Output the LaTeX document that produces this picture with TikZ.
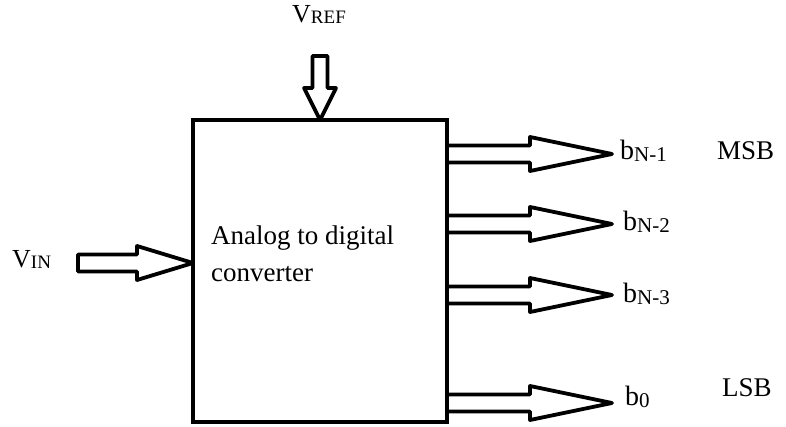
\documentclass[tikz,border=0pt]{standalone}
\usepackage{fontspec}
\setmainfont{Liberation Serif}
\newcommand{\mainsz}{\fontsize{27}{30}\selectfont}
\newcommand{\bsz}{\fontsize{28}{30}\selectfont}
\newcommand{\subsz}{\fontsize{21}{22}\selectfont}
\newcommand{\vsz}{\fontsize{26}{28}\selectfont}
\newcommand{\vsubsz}{\fontsize{19}{20}\selectfont}
\newcommand{\blab}[1]{{\bsz b}\raisebox{-2pt}{\subsz #1}}
\newcommand{\vlab}[1]{{\vsz V}\raisebox{-1pt}{\vsubsz #1}}
\begin{document}
\begin{tikzpicture}[x=1pt,y=-1pt,
  blockbox/.style={draw, line width=4.5pt, minimum width=254pt, minimum height=302pt, inner sep=0pt},
  hollow/.style={draw, line width=3.8pt, line join=round},
  lbl/.style={inner sep=0pt, anchor=base west}]
\useasboundingbox (0,0) rectangle (786,427);
\node[blockbox] (adc) at (320,271) {};
\node[lbl] (txt1) at (211,245) {\mainsz Analog to digital};
\node[lbl] (txt2) at (211,282) {\mainsz converter};
% V_REF arrow
\coordinate (reftip) at (320,120);
\draw[hollow] (312.5,56) -- (312.5,88) -- (304,88) -- (reftip) -- (336,88) -- (327.5,88) -- (327.5,56) -- cycle;
% V_IN arrow
\coordinate (intip) at (193,263);
\draw[hollow] (78,254.5) -- (137,254.5) -- (137,246) -- (intip) -- (137,280) -- (137,271.5) -- (78,271.5) -- cycle;
% output arrows
\foreach \yy/\nm in {154/o1, 224/o2, 295/o3, 403/o4}{
  \coordinate (\nm) at (612,\yy);
  \draw[hollow] (447,\yy-8.5) -- (530,\yy-8.5) -- (530,\yy-17) -- (\nm) -- (530,\yy+17) -- (530,\yy+8.5) -- (447,\yy+8.5);
}
\node[lbl] (vref) at (292,23) {\vlab{REF}};
\node[lbl] (vin) at (12,268) {\vlab{IN}};
\node[lbl] (b1) at (620,160) {\blab{N-1}};
\node[lbl] (b2) at (623,231) {\blab{N-2}};
\node[lbl] (b3) at (623,302) {\blab{N-3}};
\node[lbl] (b0) at (625,405) {\blab{0}};
\node[lbl] (msb) at (717,160) {\mainsz MSB};
\node[lbl] (lsb) at (722,396) {\mainsz LSB};
\end{tikzpicture}
\end{document}
